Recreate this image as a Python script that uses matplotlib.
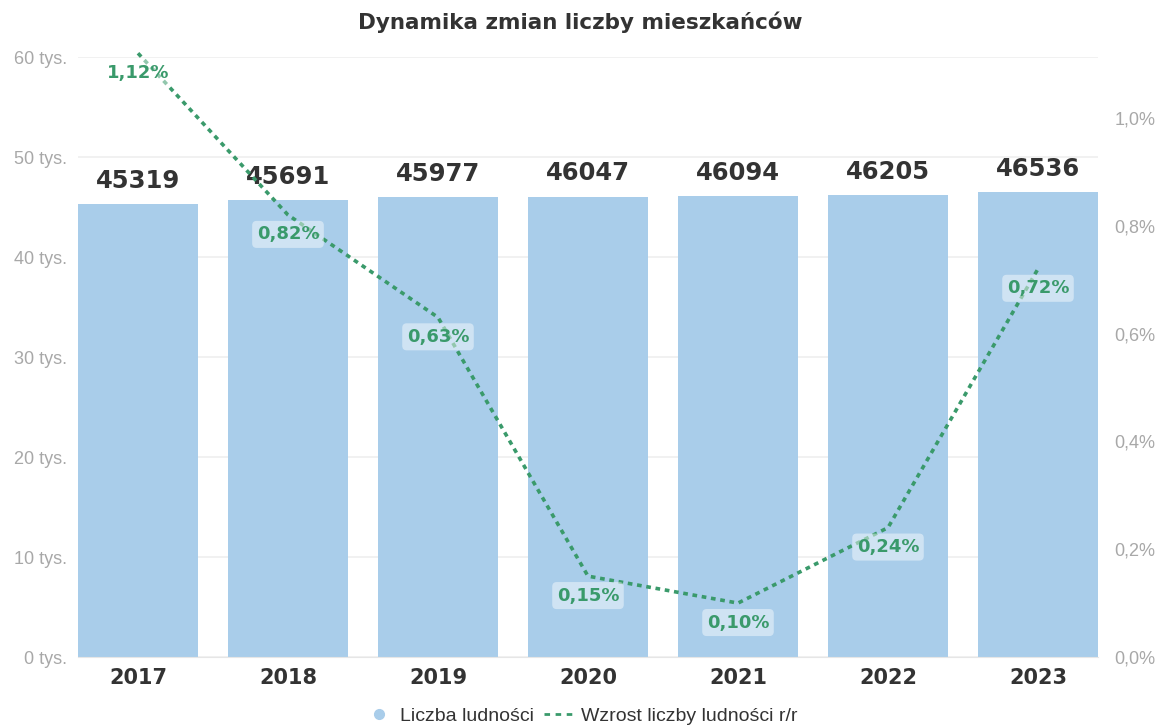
import numpy as np
import matplotlib.pyplot as plt
from matplotlib.lines import Line2D

# data
years = ['2017', '2018', '2019', '2020', '2021', '2022', '2023']
population = [45319, 45691, 45977, 46047, 46094, 46205, 46536]
growth = [1.12, 0.82, 0.63, 0.15, 0.10, 0.24, 0.72]
left_ticks = [0, 10000, 20000, 30000, 40000, 50000, 60000]
right_ticks = [0.0, 0.2, 0.4, 0.6, 0.8, 1.0]

bar_color = '#a9cdea'
line_color = '#3a9a6b'
dark = '#333333'
gray = '#a8a8a8'

fig = plt.figure(figsize=(11.61, 7.28), dpi=100)
ax = fig.add_axes([78/1161, 1-657/728, (1098-78)/1161, 600/728])
ax2 = ax.twinx()

x = np.arange(len(years))
ax.bar(x, population, width=0.8, color=bar_color, zorder=2)
for xi, v in zip(x, population):
    ax.annotate(str(v), (xi, v), xytext=(0, 8), textcoords='offset points',
                ha='center', va='bottom', fontsize=17.5, fontweight='bold', color=dark)

ax.set_xlim(-0.4, len(years) - 0.6)
ax.set_ylim(0, 60000)
ax.set_yticks(left_ticks)
ax.set_yticklabels(['%d tys.' % (t // 1000) for t in left_ticks], color=gray,
                   fontsize=13, family='Liberation Sans')
ax.set_xticks(x)
ax.set_xticklabels(years, fontsize=15, fontweight='bold', color=dark)
ax.tick_params(axis='y', length=0, pad=8)
ax.tick_params(axis='x', length=0, pad=8)
ax.grid(axis='y', color='#efefef', linewidth=1.2, zorder=0)
for s in ['top', 'right', 'left']:
    ax.spines[s].set_visible(False)
ax.spines['bottom'].set_color('#e6e6e6')

ax2.plot(x, growth, linestyle=(0, (1.3, 1.3)), color=line_color, linewidth=2.6,
         zorder=3, clip_on=False)
for xi, g in zip(x, growth):
    ax2.annotate(('%.2f%%' % g).replace('.', ','), (xi, g), xytext=(0, -14),
                 textcoords='offset points', ha='center', va='center',
                 fontsize=13, fontweight='bold', color=line_color, annotation_clip=False,
                 bbox=dict(boxstyle='round,pad=0.25', fc='white', ec='none', alpha=0.45))
ax2.set_ylim(0, 1.113)
ax2.set_yticks(right_ticks)
ax2.set_yticklabels([('%.1f%%' % t).replace('.', ',') for t in right_ticks], color=gray,
                    fontsize=13, family='Liberation Sans')
ax2.tick_params(axis='y', length=0, pad=12)
for s in ax2.spines.values():
    s.set_visible(False)

fig.text(0.5, 1-22/728, 'Dynamika zmian liczby mieszkańców', ha='center', va='center',
         fontsize=15.5, fontweight='bold', color=dark)

handles = [
    Line2D([], [], marker='o', linestyle='none', color=bar_color, markersize=7),
    Line2D([], [], linestyle=(0, (2, 2)), color=line_color, linewidth=2),
]
fig.legend(handles, ['Liczba ludności', 'Wzrost liczby ludności r/r'], loc='center',
           bbox_to_anchor=(0.5, 1-716/728), ncol=2, frameon=False,
           prop={'family': 'Liberation Sans', 'size': 14},
           handlelength=1.6, handletextpad=0.3, columnspacing=0.5, labelcolor=dark)

fig.savefig('out.png', dpi=100)
